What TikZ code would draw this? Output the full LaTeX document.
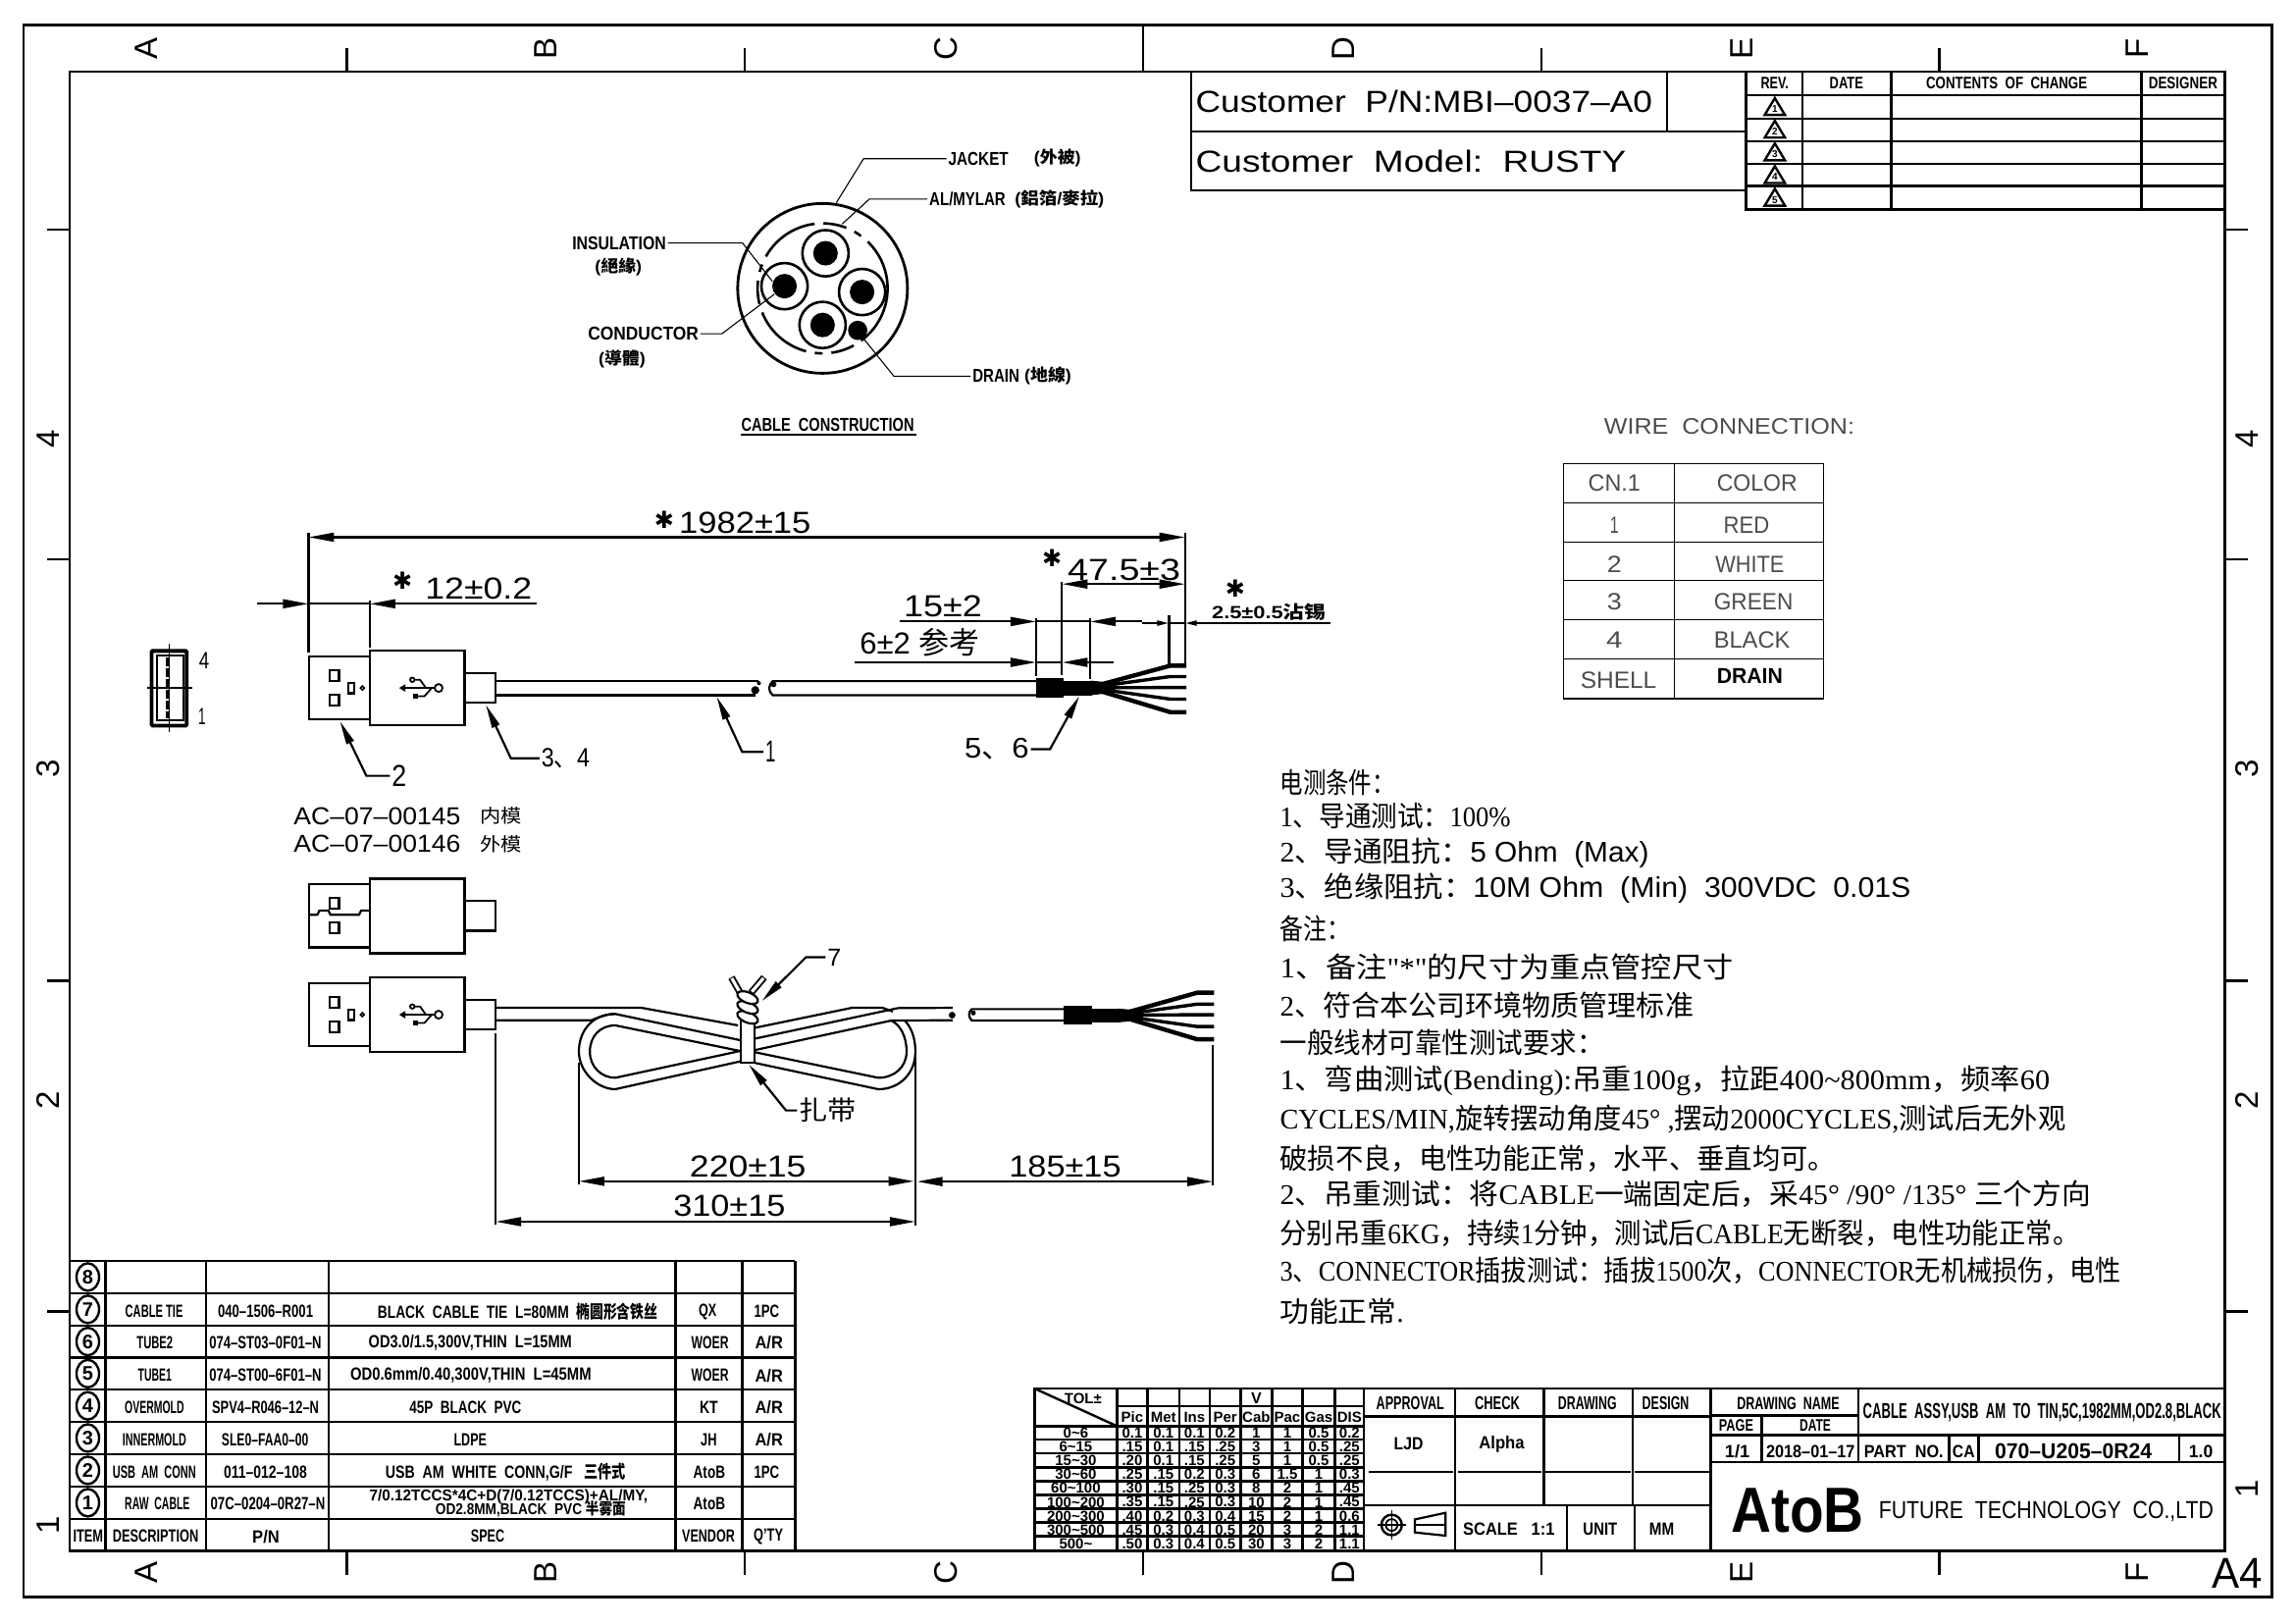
\documentclass[tikz,border=0pt]{standalone}
\usepackage{fontspec}
\usepackage{graphicx}
\setmainfont{Liberation Sans}
\newfontfamily\cjkfont{Noto Sans CJK SC}
\newfontfamily\serfont{Liberation Serif}
\newfontfamily\symfont{DejaVu Sans}
\usetikzlibrary{arrows.meta,shapes.geometric}

\newcommand{\cj}[1]{{\cjkfont #1}}
\newcommand{\keymark}{{\symfont\bfseries ✱}}
% width in picture units, height as the font gives it
\newcommand{\fitw}[2]{\resizebox{\dimexpr #1pt*14917/10000\relax}{\height}{#2}}
\newcommand{\plugbody}[1]{%
  \begin{scope}[shift={(0,#1)}]
    \draw[dim] (210.9,-21.5) rectangle (252.8,21.5);
    \draw[dim,line width=2.6pt] (252.8,-25.5) rectangle (317.5,25.5);
    \draw[dim] (317.5,-10.2) rectangle (338.7,10.2);
    \draw[dim] (225,-12.3) rectangle (231.6,-4.7);
    \draw[dim] (225,4.4) rectangle (231.6,12);
  \end{scope}}
\newcommand{\usbicon}[1]{%
  \begin{scope}[shift={(0,#1)}]
    \draw[dim] (238.2,-3.3) rectangle (241.9,3.6);
    \draw[dim,line width=1.6pt] (247.6,0) circle (1.3);
    \fill (272.7,0) -- (277,-2.6) -- (277,2.6) -- cycle;
    \draw[dim,line width=2.6pt] (275,0) -- (297,0);
    \draw[dim,line width=1.8pt] (299.7,0) circle (2.7);
    \draw[dim,line width=1.8pt] (281.7,-5.6) circle (1.5);
    \draw[dim,line width=1.8pt] (283,-5.6) -- (287,-5.6) -- (291,0);
    \fill (282.5,3.8) rectangle (285.5,7.2);
    \draw[dim,line width=1.8pt] (285,5.6) -- (290,5.6) -- (295,0);
  \end{scope}}

\tikzset{
  txt/.style={inner sep=0pt,outer sep=2pt,font=\fontsize{#1}{#1}\selectfont},
  bt/.style={inner sep=0pt,outer sep=2pt,font=\fontsize{#1}{#1}\selectfont\bfseries},
  noteline/.style={inner sep=0pt,anchor=west,font=\fontsize{29}{29}\selectfont\serfont},
  frameline/.style={line width=2.7pt},
  grid/.style={line width=2.4pt},
  thingrid/.style={line width=1.3pt},
  dim/.style={line width=2.2pt},
  pointer/.style={line width=1.1pt},
  leader/.style={line width=2.2pt,-{Triangle[length=24pt,width=8pt]}},
  dimboth/.style={line width=2.2pt,{Triangle[length=26pt,width=9pt]}-{Triangle[length=26pt,width=9pt]}},
  dimin/.style={line width=2.2pt,-{Triangle[length=26pt,width=9pt]}},
  dimsmall/.style={line width=2.2pt,-{Triangle[length=12pt,width=5pt]}},
  itemmark/.style={ellipse,draw,line width=2.4pt,inner sep=0pt,minimum width=23pt,minimum height=28pt,font=\fontsize{20}{20}\selectfont\bfseries},
  letter/.style={inner sep=0pt,rotate=90,font=\fontsize{33}{33}\selectfont}
}

\begin{document}
\begin{tikzpicture}[x=1.4917pt,y=-1.4917pt]
  \useasboundingbox (0,0) rectangle (1568,1108.8);

  % drawing frame
  \draw[frameline] (16,17) rectangle (1552,1091);
  \draw[frameline] (47.5,49) rectangle (1520,1059.5);
  \foreach \x in {237,509,1053,1325} \draw[dim] (\x,33) -- (\x,49);
  \draw[dim] (781,17) -- (781,49);
  \foreach \x in {237,509,781,1053,1325} \draw[dim] (\x,1059.5) -- (\x,1076);
  \foreach \y in {157,382,670,896} {
    \draw[dim] (32,\y) -- (47.5,\y);
    \draw[dim] (1520,\y) -- (1536,\y);
  }
  \foreach \l/\x in {A/100,B/373,C/646,D/918,E/1190,F/1460} {
    \node[letter] (top\l) at (\x,33) {\l};
    \node[letter] (bot\l) at (\x,1074) {\l};
  }
  \foreach \n/\y/\z in {4/300/300,3/525/525,2/752/752,1/1042/1017} {
    \node[letter] (left\n) at (33,\y) {\n};
    \node[letter] (right\n) at (1535,\z) {\n};
  }
  \node[txt=44] (sheet) at (1528.5,1075) {\fitw{34.5}{A4}};

  % customer box
  \draw[grid] (814,49) -- (814,130) -- (1193,130);
  \draw[grid] (814,90) -- (1193,90);
  \draw[grid] (1139,49) -- (1139,90);
  \node[txt=31] (custpn) at (973,69.5) {\fitw{312}{Customer\ \ P/N:MBI--0037--A0}};
  \node[txt=31] (custmodel) at (964,110) {\fitw{294}{Customer\ \ Model:\ \ RUSTY}};

  % revision table
  \draw[grid] (1193,49) -- (1193,143) -- (1520,143);
  \foreach \y in {65,81,96.5,112,127} \draw[grid] (1193,\y) -- (1520,\y);
  \foreach \x in {1231.5,1292,1463} \draw[grid] (\x,49) -- (\x,143);
  \node[bt=17] (revh) at (1212.5,57) {\fitw{19}{REV.}};
  \node[bt=17] (dateh) at (1261.5,57) {\fitw{23}{DATE}};
  \node[bt=17] (conth) at (1371,57) {\fitw{110}{CONTENTS\ \ OF\ \ CHANGE}};
  \node[bt=17] (desh) at (1491.5,57) {\fitw{47}{DESIGNER}};
  \foreach \n/\y in {1/73,2/88.5,3/104,4/119.5,5/135} {
    \draw[grid] (1212.6,\y-6) -- (1219.5,\y+5.5) -- (1205.7,\y+5.5) -- cycle;
    \node[bt=10] (rev\n) at (1212.6,\y+1.5) {\n};
  }

  % cable construction
  \draw[dim,line width=2.8pt] (562,197) circle (58);
  \draw[dim,line width=2.6pt,dash pattern=on 62pt off 9pt on 24pt off 9pt on 8pt off 9pt] (562,197) circle (44.4);
  \foreach \n/\x/\y in {a/564/173,b/536/195.5,c/589/199.5,d/562/222} {
    \draw[dim,line width=2.6pt] (\x,\y) circle (15.8);
    \fill (\x,\y) circle (8.4);
  }
  \fill (586,225.7) circle (6.6);
  \node[bt=19] (jacket) at (668.5,108.4) {\fitw{41}{JACKET}};
  \node[bt=17] (jacketcn) at (722.5,108) {\fitw{32}{(\cj{外被})}};
  \node[bt=19] (foil) at (661,136) {\fitw{52}{AL/MYLAR}};
  \node[bt=17] (foilcn) at (723.9,136) {\fitw{61}{(\cj{鋁箔}/\cj{麥拉})}};
  \node[bt=19] (insul) at (423,166) {\fitw{64}{INSULATION}};
  \node[bt=17] (insulcn) at (422.5,182) {\fitw{32}{(\cj{絕緣})}};
  \node[bt=19] (cond) at (439.5,228) {\fitw{75.5}{CONDUCTOR}};
  \node[bt=17] (condcn) at (425,245) {\fitw{32}{(\cj{導體})}};
  \node[bt=19] (drain) at (680.5,257) {\fitw{32}{DRAIN}};
  \node[bt=17] (draincn) at (716,257) {\fitw{32}{(\cj{地線})}};
  \node[bt=19] (constr) at (565.5,290.5) {\fitw{118}{CABLE\ \ CONSTRUCTION}};
  \coordinate (constra) at (506,297);
  \coordinate (constrb) at (626,297);
  \draw[line width=2.6pt] (constra) -- (constrb);
  \coordinate (jackettip) at (571.4,138.5);
  \coordinate (foiltip) at (575.4,153);
  \coordinate (insultip) at (527.7,192.2);
  \coordinate (condtip) at (529,201);
  \coordinate (draintip) at (590,231.3);
  \draw[pointer] (jacket.west) -- (jacket.west -| 590,0) -- (jackettip);
  \draw[pointer] (foil.west) -- (foil.west -| 594,0) -- (foiltip);
  \draw[pointer] (insul.east) -- (insul.east -| 507.3,0) -- (insultip);
  \draw[pointer] (cond.east) -- (cond.east -| 493.2,0) -- (condtip);
  \draw[pointer] (drain.west) -- (drain.west -| 610.7,0) -- (draintip);

  % receptacle view
  \draw[dim,line width=3.8pt,rounded corners=1pt] (103.6,444.7) rectangle (127.6,495.7);
  \draw[dim,line width=1.8pt] (107.2,447.6) rectangle (125.2,492.3);
  \draw[dim,line width=1.8pt] (115.6,440) -- (115.6,500);
  \draw[line width=3.2pt,dash pattern=on 9pt off 2pt] (114.6,449) -- (114.6,491);
  \draw[dim,line width=1.8pt] (100.6,470) -- (131.5,470);
  \node[txt=24] (pinfour) at (139.5,451.4) {\fitw{7}{4}};
  \node[txt=24] (pinone) at (138,489.4) {\fitw{5}{1}};

  % plug with cable
  \plugbody{470}
  \usbicon{470}
  \coordinate (capa) at (338.7,465.3);
  \coordinate (capb) at (338.7,475);
  \draw[dim] (capa) -- (518,465.3);
  \draw[dim] (capb) -- (516,475);
  \fill (516,471.5) circle (2.8) (518.5,466.7) circle (1.4);
  \draw[dim] (708,465.3) -- (528,465.3) .. controls (525,468) and (524.5,472) .. (528,475) -- (708,475);
  \fill (528.5,467.5) circle (2);
  \fill (708,463.3) rectangle (727,476.5);
  \fill (727,465) rectangle (746,475);
  \fill (745,465) -- (762,466.5) -- (762,473) -- (745,475) -- cycle;
  \foreach \ey/\w in {454.8/4.4,462.2/3.4,469.7/3.4,477.6/3.4,486.5/4.4}
    \draw[line width=\w pt] (744,469.8) -- (799.5,\ey) -- (810.5,\ey);

  % dimensions of the cable
  \coordinate (lenl) at (210.8,364);
  \coordinate (lenr) at (809.6,364);
  \draw[dim] (lenl) -- (210.8,446);
  \draw[dim] (lenr) -- (809.6,453.7);
  \draw[dimboth] (210.8,367) -- (809.6,367);
  \node[txt=24] (lenstar) at (453.8,355) {\keymark};
  \node[txt=31] (lentext) at (509,357) {\fitw{90}{1982±15}};
  \coordinate (shella) at (175.4,412.5);
  \coordinate (shellb) at (367,412.5);
  \draw[dim] (252.7,410) -- (252.7,442.5);
  \draw[dimin] (shella) -- (210.8,412.5);
  \draw[dimin] (shellb) -- (252.7,412.5);
  \draw[dim] (210.8,412.5) -- (252.7,412.5);
  \node[txt=24] (shellstar) at (275,397) {\keymark};
  \node[txt=31] (shelltext) at (327,402) {\fitw{73}{12±0.2}};

  \draw[dim] (725.6,397.8) -- (725.6,461.5);
  \draw[dimboth] (725.6,399) -- (809.6,399);
  \node[txt=24] (jackstar) at (718.8,381) {\keymark};
  \node[txt=31] (jacktext) at (768,389.5) {\fitw{77}{47.5±3}};
  \draw[dim] (707.9,422) -- (707.9,462);
  \draw[dim] (744.8,422) -- (744.8,463.7);
  \draw[dim] (798.7,420) -- (798.7,453.7);
  \draw[dimin] (614.8,424.6) -- (707.9,424.6);
  \draw[dim] (707.9,424.6) -- (744.8,424.6);
  \draw[dimin] (780,424.6) -- (744.8,424.6);
  \draw[dimsmall] (780,425.7) -- (798.7,425.7);
  \draw[dimsmall] (909,425.7) -- (809.6,425.7);
  \draw[dim] (798.7,425.7) -- (809.6,425.7);
  \node[txt=31] (tubetext) at (644.3,414.5) {\fitw{53.5}{15±2}};
  \node[txt=24] (tinstar) at (844,402) {\keymark};
  \node[bt=18] (tintext) at (867,418) {\fitw{78}{2.5±0.5\cj{沾锡}}};
  \draw[dimin] (583.9,452.5) -- (707.9,452.5);
  \draw[dimin] (761,452.5) -- (725.6,452.5);
  \draw[dim] (707.9,452.5) -- (725.6,452.5);
  \node[txt=31] (reftext) at (628.5,439) {\fitw{82}{6±2\ \cj{参考}}};

  % balloons of the first view
  \node[txt=31] (balltwo) at (272.7,530) {\fitw{10}{2}};
  \node[txt=27] (ballthree) at (386.5,518) {\fitw{33}{3\cj{、}4}};
  \node[txt=31] (ballone) at (526.5,513.6) {\fitw{7}{1}};
  \node[txt=29] (ballfive) at (681,511.8) {\fitw{44}{5\cj{、}6}};
  \coordinate (tiptwo) at (232.3,492.8);
  \coordinate (tipthree) at (332,481.6);
  \coordinate (tipone) at (489.7,476);
  \coordinate (tipfive) at (737.4,475.6);
  \draw[leader] (balltwo.west) -- (balltwo.west -| 250.3,0) -- (tiptwo);
  \draw[leader] (ballthree.west) -- (ballthree.west -| 349,0) -- (tipthree);
  \draw[leader] (ballone.west) -- (ballone.west -| 507,0) -- (tipone);
  \draw[leader] (ballfive.east) -- (ballfive.east -| 717.4,0) -- (tipfive);
  \node[txt=25,anchor=west] (toola) at (199.4,557.6) {\fitw{114}{AC--07--00145}};
  \node[txt=19,anchor=west] (toolacn) at (326.6,557.6) {\fitw{28.5}{\cj{内模}}};
  \node[txt=25,anchor=west] (toolb) at (199.4,576.6) {\fitw{114}{AC--07--00146}};
  \node[txt=19,anchor=west] (toolbcn) at (326.6,576.6) {\fitw{28.5}{\cj{外模}}};

  % plug, inner view
  \plugbody{625.7}
  \draw[dim] (211,625) -- (216.8,625) -- (218.3,622) -- (224.3,622) -- (225.8,625)
    -- (245.3,625) -- (246.8,622) -- (252.8,622);

  % plug with bundled cable
  \plugbody{693.2}
  \usbicon{693.2}
  \draw[dim] (338.7,688.5) -- (438.3,688.5) -- (504.2,700.5);
  \draw[dim] (338.7,697) -- (404,697) .. controls (409,695) and (415,692.5) .. (420.4,692.7)
    -- (505.7,710.6);
  \draw[dim] (420.4,692.7) .. controls (404,692.7) and (395.5,705) .. (395.5,718.4)
    .. controls (395.5,732) and (408,744.1) .. (420.4,744.1) -- (505.7,725.1);
  \draw[dim] (505.7,718) -- (420.4,700.5) .. controls (410,700.5) and (403,708) .. (403,718.4)
    .. controls (403,729) and (411,736.3) .. (420.4,736.3) -- (505.7,718);
  \draw[dim] (516.1,718.9) -- (600,736.3) .. controls (611,736.3) and (619.4,729) .. (619.4,718.4)
    .. controls (619.4,708) and (615,700) .. (608.9,697.2);
  \draw[dim] (516.1,726.2) -- (600,744.1) .. controls (615,744.1) and (625.4,733) .. (625.4,718.4)
    .. controls (625.4,708) and (622,701) .. (617.9,697);
  \draw[dim] (516.1,702.1) -- (582,688.5) -- (603,688.5) -- (610,691);
  \draw[dim] (516.1,709.5) -- (613.4,688.7) -- (650.8,688.5);
  \draw[dim] (516.1,717.3) -- (608.9,697.2) -- (650.8,697);
  \fill (650.5,693.5) circle (2.3);
  \draw[dim] (729,689.4) -- (664,689.4) .. controls (661.5,691) and (661.5,695) .. (664,697.2) -- (729,697.2);
  \fill (665,692) circle (1.7);
  \fill (727,687.2) rectangle (746.3,700.1);
  \fill (746.3,689) rectangle (765.3,698.4);
  \fill (764,689) -- (781,690.5) -- (781,697) -- (764,698.4) -- cycle;
  \foreach \ey/\w in {678.2/4.4,686/3.4,693.2/3.4,701.3/3.4,710/4.4}
    \draw[line width=\w pt] (763,693.6) -- (817.9,\ey) -- (829.5,\ey);

  % cable tie
  \draw[line width=7pt] (505.7,678.2) -- (499.7,667.7);
  \draw[white,line width=3.2pt] (505.2,677.4) -- (500,668.3);
  \draw[line width=7pt] (513.2,678.2) -- (522.1,667.7);
  \draw[white,line width=3.2pt] (513.7,677.5) -- (521.6,668.3);
  \draw[dim,fill=white] (506.3,697.2) rectangle (515.3,725.8);
  \foreach \y in {695,688.2,681.5}
    \draw[dim,fill=white,rotate around={-22:(510.8,\y)}] (510.8,\y) ellipse (7.5 and 3.6);
  \node[txt=25] (ballseven) at (570,654) {7};
  \node[txt=27] (tielabel) at (565.5,758.6) {\fitw{39}{\cj{扎带}}};
  \coordinate (tipseven) at (520.6,683.8);
  \coordinate (tiptie) at (511.7,727.3);
  \draw[leader] (ballseven.west) -- (ballseven.west -| 550.6,0) -- (tipseven);
  \draw[leader] (tielabel.west) -- (tielabel.west -| 537,0) -- (tiptie);

  % dimensions of the bundle
  \coordinate (bunda) at (338.7,706);
  \coordinate (bundb) at (395.5,726);
  \coordinate (bundc) at (625.4,721.8);
  \coordinate (bundd) at (828.6,714);
  \draw[dim] (bunda) -- (338.7,836.9);
  \draw[dim] (bundb) -- (395.5,809);
  \draw[dim] (bundc) -- (625.4,837);
  \draw[dim] (bundd) -- (828.6,810);
  \draw[dimboth] (395.5,807) -- (624.5,807);
  \draw[dimboth] (338.7,834.6) -- (625.4,834.6);
  \draw[dimboth] (626.5,807.2) -- (828.6,807.2);
  \node[txt=31] (looptext) at (511,797) {\fitw{79.5}{220±15}};
  \node[txt=31] (slacktext) at (498.3,824) {\fitw{76.5}{310±15}};
  \node[txt=31] (freetext) at (727.7,797) {\fitw{76.6}{185±15}};

  % wire table
  \node[txt=23,text=black!70] (wiretitle) at (1181.5,291) {\fitw{171}{WIRE\ \ CONNECTION:}};
  \draw[thingrid] (1068,316.7) rectangle (1245.8,477.2);
  \draw[thingrid] (1144,316.7) -- (1144,477.2);
  \foreach \y in {343.5,370.3,396.7,423.5,450.3} \draw[thingrid] (1068,\y) -- (1245.8,\y);
  \foreach \r/\y/\wa/\xa/\ta/\wb/\xb/\tb in {
    0/330.3/35.7/1103/CN.1/55/1200.5/COLOR,
    1/358.7/6/1103/1/31.3/1193.3/RED,
    2/385.5/10/1103/2/47/1195.5/WHITE,
    3/411.2/10/1103/3/54/1198/GREEN,
    4/437/11/1103/4/52/1197/BLACK,
    5/464.4/52/1105.8/SHELL/0/0/{}} {
    \node[txt=24,text=black!70] (cn\r) at (\xa,\y) {\fitw{\wa}{\ta}};
    \ifnum\r<5 \node[txt=24,text=black!70] (color\r) at (\xb,\y) {\fitw{\wb}{\tb}}; \fi
  }
  \node[bt=22] (color5) at (1195.5,461.5) {\fitw{45}{DRAIN}};

  % notes
  \node[noteline] (notea) at (874.4,534.7) {\fitw{78.6}{\cj{电测条件：}}};
  \node[noteline] (noteb) at (874.4,557.2) {\fitw{157.6}{1\cj{、导通测试：}100\%}};
  \node[noteline] (notec) at (874.4,582.4) {\fitw{252}{2\cj{、导通阻抗：}{\rmfamily 5 Ohm\ \ (Max)}}};
  \node[noteline] (noted) at (874.4,606.5) {\fitw{431}{3\cj{、绝缘阻抗：}{\rmfamily 10M Ohm\ \ (Min)\ \ 300VDC\ \ 0.01S}}};
  \node[noteline] (notee) at (874.4,634.2) {\fitw{48}{\cj{备注：}}};
  \node[noteline] (notef) at (874.4,660.4) {\fitw{309.6}{1\cj{、备注}"*"\cj{的尺寸为重点管控尺寸}}};
  \node[noteline] (noteg) at (874.4,686.8) {\fitw{282.6}{2\cj{、符合本公司环境物质管理标准}}};
  \node[noteline] (noteh) at (874.4,712.5) {\fitw{221.3}{\cj{一般线材可靠性测试要求：}}};
  \node[noteline] (notei) at (874.4,738.2) {\fitw{526}{1\cj{、弯曲测试}(Bending):\cj{吊重}100g\cj{，拉距}400\textasciitilde 800mm\cj{，频率}60}};
  \node[noteline] (notej) at (874.4,764.6) {\fitw{536.8}{CYCLES/MIN,\cj{旋转摆动角度}45°\ ,\cj{摆动}2000CYCLES,\cj{测试后无外观}}};
  \node[noteline] (notek) at (874.4,791.3) {\fitw{379.8}{\cj{破损不良，电性功能正常，水平、垂直均可。}}};
  \node[noteline] (notel) at (874.4,816) {\fitw{554}{2\cj{、吊重测试：将}CABLE\cj{一端固定后，采}45°\ /90°\ /135°\ \cj{三个方向}}};
  \node[noteline] (notem) at (874.4,842.6) {\fitw{546.4}{\cj{分别吊重}6KG\cj{，持续}1\cj{分钟，测试后}CABLE\cj{无断裂，电性功能正常。}}};
  \node[noteline] (noten) at (874.4,868.3) {\fitw{574.6}{3\cj{、}CONNECTOR\cj{插拔测试：插拔}1500\cj{次，}CONNECTOR\cj{无机械损伤，电性}}};
  \node[noteline] (noteo) at (874.4,896) {\fitw{84.6}{\cj{功能正常}.}};

  % parts list
  \foreach \y in {861.5,883.4,905.5,927.4,949.3,971.4,993.3,1015.7,1037.6}
    \draw[grid] (47.5,\y) -- (543.2,\y);
  \foreach \x in {72.1,140.6,224.6,461.6,507,543.2} \draw[grid] (\x,861.5) -- (\x,1059.5);
  \foreach \n/\y in {8/872.4,7/894.5,6/916.5,5/938.4,4/960.4,3/982.4,2/1004.5,1/1026.6}
    \node[itemmark] (item\n) at (60,\y) {\n};
  \node[bt=18] (desc7) at (105.3,896) {\fitw{39.4}{CABLE TIE}};
  \node[bt=18] (pn7) at (181.4,896) {\fitw{65}{040--1506--R001}};
  \node[bt=18] (spec7) at (353.7,896) {\fitw{191.4}{BLACK\ \ CABLE\ \ TIE\ \ L=80MM\ \ \cj{椭圆形含铁丝}}};
  \node[bt=18] (vend7) at (483.5,896) {\fitw{12.2}{QX}};
  \node[bt=18] (qty7) at (523.8,896) {\fitw{17.2}{1PC}};
  \node[bt=18] (desc6) at (105.8,917.3) {\fitw{24.7}{TUBE2}};
  \node[bt=18] (pn6) at (181.3,917.3) {\fitw{76.6}{074--ST03--0F01--N}};
  \node[bt=18] (spec6) at (321.3,917.3) {\fitw{138.9}{OD3.0/1.5,300V,THIN\ \ L=15MM}};
  \node[bt=18] (vend6) at (485.1,917.3) {\fitw{25.4}{WOER}};
  \node[bt=18] (qty6) at (525.4,917.3) {\fitw{19}{A/R}};
  \node[bt=18] (desc5) at (105.8,939.7) {\fitw{23}{TUBE1}};
  \node[bt=18] (pn5) at (181.3,939.7) {\fitw{76.6}{074--ST00--6F01--N}};
  \node[bt=18] (spec5) at (321.7,939.7) {\fitw{164.6}{OD0.6mm/0.40,300V,THIN\ \ L=45MM}};
  \node[bt=18] (vend5) at (485.1,939.7) {\fitw{25.4}{WOER}};
  \node[bt=18] (qty5) at (525.4,939.7) {\fitw{19}{A/R}};
  \node[bt=18] (desc4) at (105.5,961.6) {\fitw{40.5}{OVERMOLD}};
  \node[bt=18] (pn4) at (181.4,961.6) {\fitw{73}{SPV4--R046--12--N}};
  \node[bt=18] (spec4) at (318,961.6) {\fitw{76.3}{45P\ \ BLACK\ \ PVC}};
  \node[bt=18] (vend4) at (484.3,961.6) {\fitw{12.6}{KT}};
  \node[bt=18] (qty4) at (525.4,961.6) {\fitw{19}{A/R}};
  \node[bt=18] (desc3) at (105.5,983.7) {\fitw{43.7}{INNERMOLD}};
  \node[bt=18] (pn3) at (181.1,983.7) {\fitw{59.2}{SLE0--FAA0--00}};
  \node[bt=18] (spec3) at (321.3,983.7) {\fitw{22.4}{LDPE}};
  \node[bt=18] (vend3) at (484.3,983.7) {\fitw{11}{JH}};
  \node[bt=18] (qty3) at (525.4,983.7) {\fitw{19}{A/R}};
  \node[bt=18] (desc2) at (105.5,1005.6) {\fitw{57}{USB\ \ AM\ \ CONN}};
  \node[bt=18] (pn2) at (181.3,1005.6) {\fitw{56.9}{011--012--108}};
  \node[bt=18] (spec2) at (345.5,1005.6) {\fitw{164.3}{USB\ \ AM\ \ WHITE\ \ CONN,G/F\ \ \ \cj{三件式}}};
  \node[bt=18] (vend2) at (484.6,1005.6) {\fitw{21.7}{AtoB}};
  \node[bt=18] (qty2) at (523.8,1005.6) {\fitw{17.2}{1PC}};
  \node[bt=18] (desc1) at (107.5,1027.5) {\fitw{44.4}{RAW\ \ CABLE}};
  \node[bt=18] (pn1) at (183,1027.5) {\fitw{78.3}{07C--0204--0R27--N}};
  \node[bt=16] (spec1a) at (347.5,1022.4) {\fitw{190}{7/0.12TCCS*4C+D(7/0.12TCCS)+AL/MY,}};
  \node[bt=16] (spec1b) at (362.6,1030.9) {\fitw{130}{OD2.8MM,BLACK\ \ PVC\ \cj{半雾面}}};
  \node[bt=18] (vend1) at (484.6,1027.5) {\fitw{21.7}{AtoB}};
  \node[bt=18] (headitem) at (60.2,1049.6) {\fitw{20.5}{ITEM}};
  \node[bt=18] (headdesc) at (106.3,1049.6) {\fitw{58.7}{DESCRIPTION}};
  \node[bt=18] (headpn) at (181.7,1049.6) {\fitw{18.5}{P/N}};
  \node[bt=18] (headspec) at (333.2,1049.6) {\fitw{23}{SPEC}};
  \node[bt=18] (headvend) at (484,1049.6) {\fitw{36}{VENDOR}};
  \node[bt=18] (headqty) at (525,1049.6) {\fitw{20}{Q'TY}};

  % tolerance table
  \draw[grid] (706.9,948.6) rectangle (932,1059.5);
  \draw[grid] (706.9,948.6) -- (763.2,974.3);
  \draw[grid] (763.2,960.8) -- (932,960.8);
  \foreach \x in {763.2,784.1,805.7,826.6,847.6,869.1,890,911.9} \draw[grid] (\x,948.6) -- (\x,1059.5);
  \foreach \y in {974.3,983.6,993,1002.4,1011.8,1021.2,1030.6,1040,1049.4} \draw[grid] (706.9,\y) -- (932,\y);
  \node[bt=15] (tolhead) at (740,955.3) {TOL±};
  \node[bt=16] (tolv) at (858.3,955) {V};
  \foreach \t [count=\r] in {0\textasciitilde 6,6\textasciitilde 15,15\textasciitilde 30,30\textasciitilde 60,60\textasciitilde 100,100\textasciitilde 200,200\textasciitilde 300,300\textasciitilde 500,500\textasciitilde}
    \node[bt=15] (tolrow\r) at (735,{974.3+(\r-0.5)*9.44}) {\t};
  \foreach \x/\h/\vals [count=\c] in {
    773.6/Pic/{0.1,.15,.20,.25,.30,.35,.40,.45,.50},
    794.9/Met/{0.1,0.1,0.1,.15,.15,.15,0.2,0.3,0.3},
    816.1/Ins/{0.1,.15,.15,0.2,.25,.25,0.3,0.4,0.4},
    837.1/Per/{0.2,.25,.25,0.3,0.3,0.3,0.4,0.5,0.5},
    858.3/Cab/{1,3,5,6,8,10,15,20,30},
    879.5/Pac/{1,1,1,1.5,2,2,2,3,3},
    901/Gas/{0.5,0.5,0.5,1,1,1,1,2,2},
    922/DIS/{0.2,.25,.25,0.3,.45,.45,0.6,1.1,1.1}} {
    \node[bt=15] (tolcol\c) at (\x,968) {\h};
    \foreach \v [count=\r] in \vals
      \node[bt=15] (tol\c x\r) at (\x,{974.3+(\r-0.5)*9.44}) {\v};
  }

  % approval block
  \draw[grid] (932,948.6) -- (1520,948.6);
  \draw[grid] (1520,948.6) -- (1520,1059.5);
  \draw[grid] (932,967.6) -- (1168.9,967.6);
  \draw[grid] (932,1028.3) -- (1168.9,1028.3);
  \foreach \xa/\xb in {935/993,996/1053,1056/1114,1117/1168} \draw[grid] (\xa,1005.5) -- (\xb,1005.5);
  \draw[grid] (994.2,948.6) -- (994.2,1059.5);
  \draw[grid] (1054.7,948.6) -- (1054.7,1028.3);
  \draw[grid] (1115.5,948.6) -- (1115.5,1028.3);
  \draw[grid] (1070.5,1028.3) -- (1070.5,1059.5);
  \draw[grid] (1117,1028.3) -- (1117,1059.5);
  \draw[grid] (1168.9,948.6) -- (1168.9,1059.5);
  \node[bt=19] (approval) at (963.5,958.6) {\fitw{46.3}{APPROVAL}};
  \node[bt=19] (check) at (1023,958.6) {\fitw{30.8}{CHECK}};
  \node[bt=19] (drawing) at (1084.5,958.6) {\fitw{40}{DRAWING}};
  \node[bt=19] (design) at (1138,958.6) {\fitw{32}{DESIGN}};
  \node[bt=18] (ljd) at (962.4,986.5) {\fitw{20}{LJD}};
  \node[bt=18] (alpha) at (1026,986.5) {\fitw{31}{Alpha}};
  \draw[grid] (950.8,1041.8) circle (7);
  \draw[grid,line width=1.8pt] (950.8,1041.8) circle (4);
  \draw[dim,line width=1.4pt] (941,1041.8) -- (960.6,1041.8) (950.8,1032) -- (950.8,1051.5);
  \draw[dim] (966.7,1038) -- (987.6,1033.5) -- (987.6,1049.1) -- (966.7,1046.9) -- cycle;
  \draw[dim] (966.7,1042) -- (987.6,1042);
  \node[bt=18] (scale) at (1030.9,1044.7) {\fitw{62.6}{SCALE\ \ \ 1:1}};
  \node[bt=18] (unit) at (1093.3,1044.7) {\fitw{23.4}{UNIT}};
  \node[bt=18] (unitmm) at (1135.3,1044.7) {\fitw{17}{MM}};

  % title block
  \draw[grid] (1168.9,967.1) -- (1269.8,967.1);
  \draw[grid] (1168.9,980.5) -- (1520,980.5);
  \draw[grid] (1168.9,998.8) -- (1520,998.8);
  \draw[grid] (1203.7,967.1) -- (1203.7,998.8);
  \draw[grid] (1269.8,948.6) -- (1269.8,998.8);
  \foreach \x in {1331.6,1351.8,1488.7} \draw[grid] (\x,980.5) -- (\x,998.8);
  \node[bt=18] (dwgname) at (1221.8,959) {\fitw{70}{DRAWING\ \ NAME}};
  \node[bt=17] (page) at (1186.2,974) {\fitw{23.5}{PAGE}};
  \node[bt=17] (date) at (1240.2,974) {\fitw{21.4}{DATE}};
  \node[bt=22] (dwgtitle) at (1395.2,965.3) {\fitw{244.7}{CABLE\ \ ASSY,USB\ \ AM\ \ TO\ \ TIN,5C,1982MM,OD2.8,BLACK}};
  \node[bt=18] (pageno) at (1187,991.5) {\fitw{17}{1/1}};
  \node[bt=18] (dateval) at (1237,991.5) {\fitw{60.5}{2018--01--17}};
  \node[bt=18] (partno) at (1300.7,991.5) {\fitw{54.2}{PART\ \ NO.}};
  \node[bt=18] (partca) at (1341.6,991.5) {\fitw{15.2}{CA}};
  \node[bt=22] (partnum) at (1416.6,991.5) {\fitw{107.3}{070--U205--0R24}};
  \node[bt=18] (partver) at (1503.7,991.5) {\fitw{16.4}{1.0}};
  \node[bt=65] (logo) at (1228.2,1032) {\fitw{90.8}{AtoB}};
  \node[txt=25] (company) at (1398,1032.8) {\fitw{228.7}{FUTURE\ \ TECHNOLOGY\ \ CO.,LTD}};
\end{tikzpicture}
\end{document}
